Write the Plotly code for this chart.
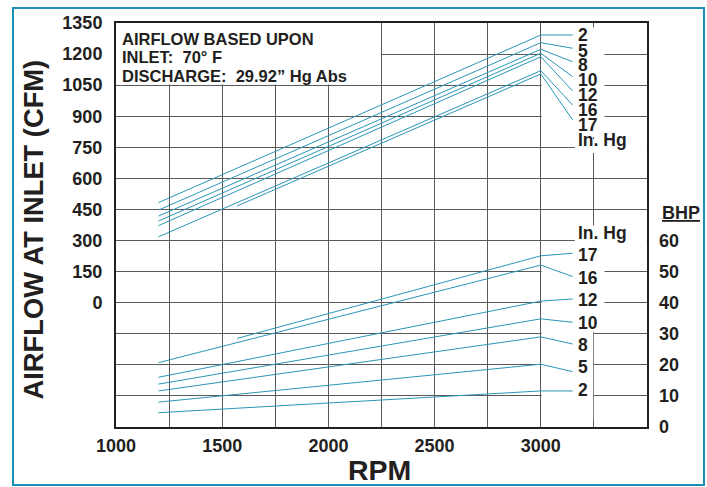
import plotly.graph_objects as go

# ---------------- data ----------------
series = ["2", "5", "8", "10", "12", "16", "17"]          # inlet vacuum, In. Hg
rpm_end = 3000
cfm_rpm_start = [1200, 1200, 1200, 1200, 1200, 1200, 1570]
cfm_start = [483, 447, 418, 394, 372, 318, 467]
cfm_end = [1292, 1255, 1223, 1204, 1187, 1120, 1104]
bhp_rpm_start = [1200, 1200, 1200, 1200, 1200, 1200, 1570]
bhp_start = [4.6, 8.0, 11.6, 13.8, 16.0, 20.7, 28.5]
bhp_end = [11.6, 20.2, 29.0, 34.8, 40.5, 52.1, 55.1]

x_tickvals = [1000, 1250, 1500, 1750, 2000, 2250, 2500, 2750, 3000, 3250, 3500]
x_ticktext = ["1000", "", "1500", "", "2000", "", "2500", "", "3000", "", ""]
cfm_tickvals = [-600, -450, -300, -150, 0, 150, 300, 450, 600, 750, 900, 1050, 1200, 1350]
cfm_ticktext = ["", "", "", "", "0", "150", "300", "450", "600", "750", "900", "1050", "1200", "1350"]
bhp_tickvals = [0, 10, 20, 30, 40, 50, 60]

# label layout (positions of curve labels / leader ends)
leader_x = 3150
label_x = 3165
upper_label_y = [1292, 1216, 1145, 1073, 1004, 930, 858]
upper_leader_y = [1292, 1228, 1163, 1091, 1022, 954, 882]
lower_label_y = [11.8, 19.4, 26.4, 33.5, 40.8, 47.9, 55.2]
lower_leader_y = [11.6, 17.8, 26.7, 33.7, 41.2, 48.4, 55.9]

TEAL = "#2a96b8"
DARK = "#231f20"
GRID = "#5a5a5a"
FONT = "Liberation Sans"

fig = go.Figure()

for i, s in enumerate(series):
    fig.add_trace(go.Scatter(x=[cfm_rpm_start[i], rpm_end], y=[cfm_start[i], cfm_end[i]],
                             mode="lines", line=dict(color=TEAL, width=1), showlegend=False,
                             hoverinfo="skip"))
    fig.add_trace(go.Scatter(x=[rpm_end, leader_x], y=[cfm_end[i], upper_leader_y[i]],
                             mode="lines", line=dict(color=TEAL, width=1), showlegend=False,
                             hoverinfo="skip"))
    fig.add_trace(go.Scatter(x=[bhp_rpm_start[i], rpm_end], y=[bhp_start[i], bhp_end[i]],
                             mode="lines", line=dict(color=TEAL, width=1), showlegend=False,
                             yaxis="y2", hoverinfo="skip"))
    fig.add_trace(go.Scatter(x=[rpm_end, leader_x], y=[bhp_end[i], lower_leader_y[i]],
                             mode="lines", line=dict(color=TEAL, width=1), showlegend=False,
                             yaxis="y2", hoverinfo="skip"))

LBL = dict(size=17.5, color=DARK, family=FONT, weight="bold")
annots = []
for i, s in enumerate(series):
    annots.append(dict(x=label_x, y=upper_label_y[i], xref="x", yref="y", text=s,
                       xanchor="left", yanchor="middle", showarrow=False, font=LBL))
    annots.append(dict(x=label_x, y=lower_label_y[i], xref="x", yref="y2", text=s,
                       xanchor="left", yanchor="middle", showarrow=False, font=LBL))
annots.append(dict(x=label_x, y=785, xref="x", yref="y", text="In. Hg",
                   xanchor="left", yanchor="middle", showarrow=False, font=LBL))
annots.append(dict(x=label_x, y=62.4, xref="x", yref="y2", text="In. Hg",
                   xanchor="left", yanchor="middle", showarrow=False, font=LBL))

box_lines = ["AIRFLOW BASED UPON", "INLET:\u00a0 70° F", "DISCHARGE:\u00a0 29.92\u201d Hg Abs"]
for k, t in enumerate(box_lines):
    annots.append(dict(x=0, y=1, xref="paper", yref="paper", text=t, xanchor="left",
                       yanchor="top", xshift=4, yshift=-5 - 18.3 * k, showarrow=False,
                       font=dict(size=16.5, color=DARK, family=FONT, weight="bold")))

annots.append(dict(x=-0.1563, y=0.489, xref="paper", yref="paper", text="AIRFLOW AT INLET (CFM)",
                   textangle=-90, showarrow=False, xanchor="center", yanchor="middle",
                   font=dict(size=27.3, color=DARK, family=FONT, weight="bold")))
annots.append(dict(x=0.497, y=-0.1064, xref="paper", yref="paper", text="RPM",
                   showarrow=False, xanchor="center", yanchor="middle",
                   font=dict(size=28.5, color=DARK, family=FONT, weight="bold")))
annots.append(dict(x=1.0245, y=0.5297, xref="paper", yref="paper", text="<u>BHP</u>",
                   showarrow=False, xanchor="left", yanchor="middle",
                   font=dict(size=18, color=DARK, family=FONT, weight="bold")))

# white masks that interrupt the grid behind the text areas (drawn between grid and traces)
masks = [
    (1000, 2247, 1053, 1350),
    (3004, 3300, 800, 1330),
    (3160, 3499, 722, 790),
    (3160, 3499, 290, 372),
    (3004, 3300, -140, 290),
    (3004, 3247, -570, -140),
]
shapes = []
for x0, x1, y0, y1 in masks:
    shapes.append(dict(type="rect", xref="x", yref="y", x0=x0, x1=x1, y0=y0, y1=y1,
                       fillcolor="white", line=dict(width=0), layer="between"))
shapes.append(dict(type="rect", xref="paper", yref="paper", x0=-0.194, x1=1.1073,
                   y0=-0.1436, y1=1.037, line=dict(color="#1b8fb5", width=2),
                   fillcolor="rgba(0,0,0,0)", layer="above"))

fig.update_layout(
    width=707, height=487,
    margin=dict(l=116, r=60, t=23, b=60),
    paper_bgcolor="white", plot_bgcolor="white",
    font=dict(family=FONT, color=DARK),
    showlegend=False,
    annotations=annots,
    shapes=shapes,
    xaxis=dict(range=[1000, 3500], tickvals=x_tickvals, ticktext=x_ticktext,
               showgrid=True, gridcolor=GRID, gridwidth=1, zeroline=False,
               showline=True, linecolor=DARK, linewidth=2, mirror=True, ticks="",
               ticklabelstandoff=1,
               tickfont=dict(size=18, color=DARK, family=FONT, weight="bold")),
    yaxis=dict(range=[-600, 1350], tickvals=cfm_tickvals, ticktext=cfm_ticktext,
               showgrid=True, gridcolor=GRID, gridwidth=1, zeroline=False,
               showline=True, linecolor=DARK, linewidth=2, mirror=True, ticks="",
               ticklabelstandoff=8,
               tickfont=dict(size=18, color=DARK, family=FONT, weight="bold")),
    yaxis2=dict(range=[0, 130], tickvals=bhp_tickvals, overlaying="y", side="right",
                showgrid=False, zeroline=False, showline=False, ticks="",
                ticklabelstandoff=11,
                tickfont=dict(size=18, color=DARK, family=FONT, weight="bold")),
)

fig.write_html("out.html", config={"displayModeBar": False},
               post_script="document.body.style.margin='0';document.body.style.overflow='hidden';")
